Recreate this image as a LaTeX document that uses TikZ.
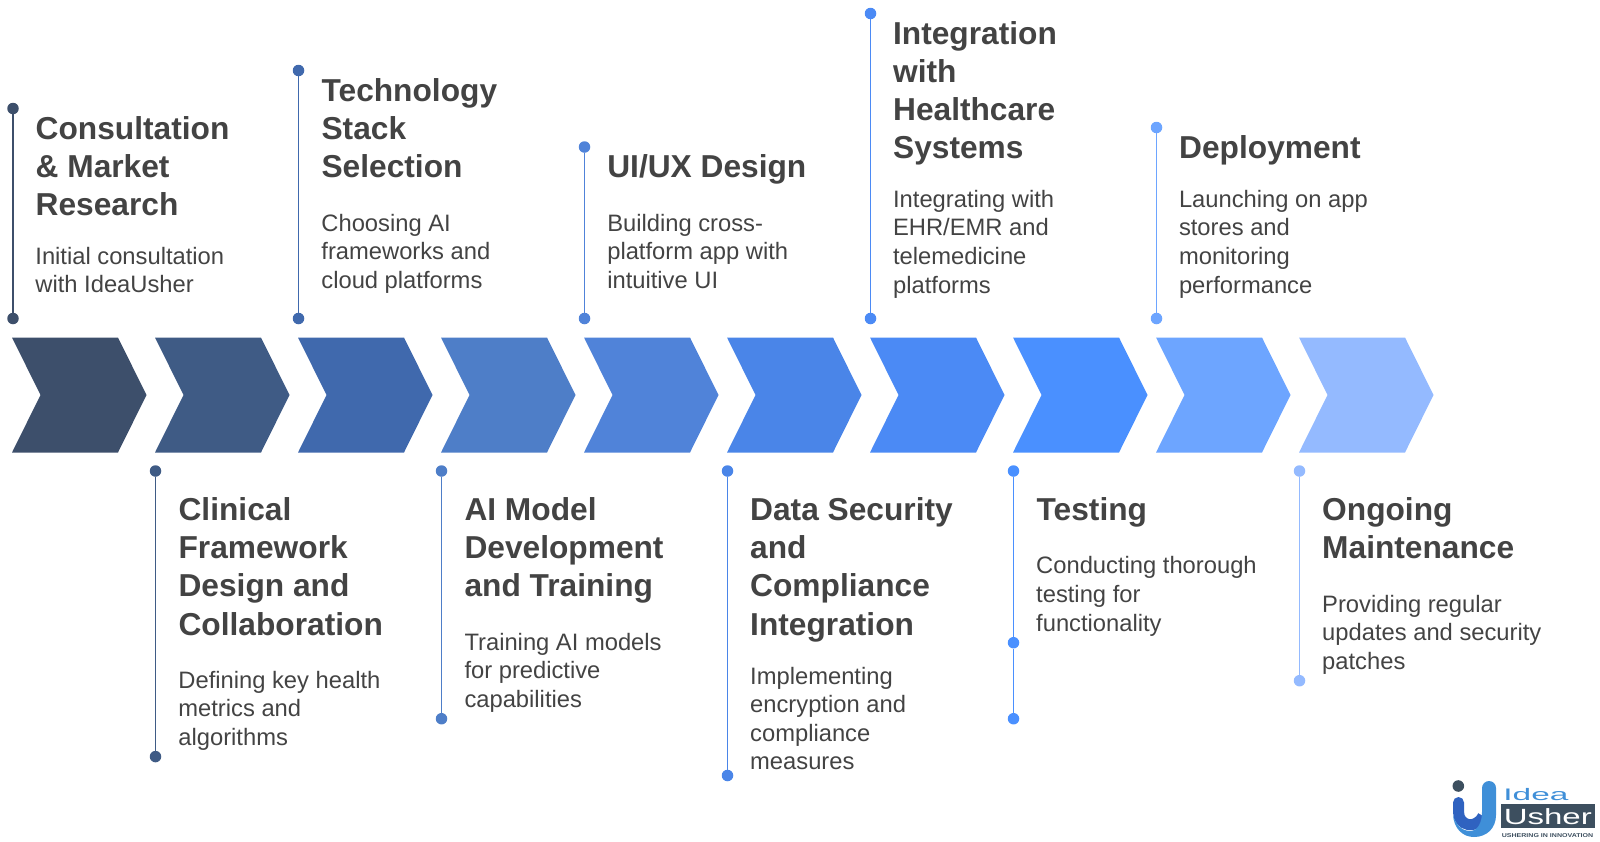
\documentclass[tikz,border=0pt]{standalone}
\usepackage{fontspec}
\setmainfont{Liberation Sans}
\definecolor{txt}{HTML}{434343}
\definecolor{c1}{HTML}{3D4F6B}
\definecolor{c2}{HTML}{3F5B85}
\definecolor{c3}{HTML}{4069AD}
\definecolor{c4}{HTML}{4E7EC8}
\definecolor{c5}{HTML}{5083D9}
\definecolor{c6}{HTML}{4A85E8}
\definecolor{c7}{HTML}{4B8AF5}
\definecolor{c8}{HTML}{4A90FF}
\definecolor{c9}{HTML}{6DA5FF}
\definecolor{c10}{HTML}{94BAFF}
\definecolor{logoblue}{HTML}{3F8FD8}
\definecolor{logodark}{HTML}{2F62C0}
\definecolor{logoslate}{HTML}{3D4F5F}
\newcommand\Lin[1]{\hbox{\strut #1}}
\newcommand\TitleBlock[1]{\vtop{\fontsize{31.7}{38.2}\selectfont\bfseries\baselineskip=38.2pt\def\strut{}#1}}
\newcommand\DescBlock[1]{\vtop{\fontsize{23.75}{28.6}\selectfont\baselineskip=28.6pt\def\strut{}#1}}
\tikzset{
  titletext/.style={anchor=base west,inner sep=0pt,text=txt},
  desctext/.style={anchor=base west,inner sep=0pt,text=txt},
  pin/.style={circle,inner sep=0pt,minimum size=11.5pt,fill=#1,draw=none},
  stem/.style={line width=1.8pt,draw=#1},
}
\newcommand\Chev[2]{%
  \fill[#2] (#1,337.5) -- (#1+106,337.5) -- (#1+134.5,395) -- (#1+106,452.5) -- (#1,452.5) -- (#1+28.5,395) -- cycle;}
\begin{document}
\begin{tikzpicture}[x=1pt,y=-1pt]
\useasboundingbox (0,0) rectangle (1600,841);
% chevrons
\Chev{12}{c1}\Chev{155}{c2}\Chev{298}{c3}\Chev{441}{c4}\Chev{584}{c5}
\Chev{727}{c6}\Chev{870}{c7}\Chev{1013}{c8}\Chev{1156}{c9}\Chev{1299}{c10}
% pins
\node[pin=c1] (a1) at (13,108.5) {};   \node[pin=c1] (b1) at (13,318.5) {};
\node[pin=c2] (a2) at (155.5,471) {};  \node[pin=c2] (b2) at (155.5,756.6) {};
\node[pin=c3] (a3) at (298.5,70.5) {}; \node[pin=c3] (b3) at (298.5,318.5) {};
\node[pin=c4] (a4) at (441.5,471) {};  \node[pin=c4] (b4) at (441.5,718.7) {};
\node[pin=c5] (a5) at (584.5,147) {};  \node[pin=c5] (b5) at (584.5,318.5) {};
\node[pin=c6] (a6) at (727.5,471) {};  \node[pin=c6] (b6) at (727.5,775.5) {};
\node[pin=c7] (a7) at (870.5,13.5) {}; \node[pin=c7] (b7) at (870.5,318.5) {};
\node[pin=c8] (a8) at (1013.5,471) {}; \node[pin=c8] (m8) at (1013.5,642.7) {}; \node[pin=c8] (b8) at (1013.5,718.7) {};
\node[pin=c9] (a9) at (1156.5,127.5) {}; \node[pin=c9] (b9) at (1156.5,318.5) {};
\node[pin=c10] (a10) at (1299.5,471) {}; \node[pin=c10] (b10) at (1299.5,680.7) {};
\draw[stem=c1] (a1) -- (b1);
\draw[stem=c2] (a2) -- (b2);
\draw[stem=c3] (a3) -- (b3);
\draw[stem=c4] (a4) -- (b4);
\draw[stem=c5] (a5) -- (b5);
\draw[stem=c6] (a6) -- (b6);
\draw[stem=c7] (a7) -- (b7);
\draw[stem=c8] (a8) -- (m8);
\draw[stem=c8] (m8) -- (b8);
\draw[stem=c9] (a9) -- (b9);
\draw[stem=c10] (a10) -- (b10);
% titles
\node[titletext] (t1) at (35.5,139) {\TitleBlock{\Lin{Consultation}\Lin{\& Market}\Lin{Research}}};
\node[titletext] (t2) at (178.4,520.4) {\TitleBlock{\Lin{Clinical}\Lin{Framework}\Lin{Design and}\Lin{Collaboration}}};
\node[titletext] (t3) at (321.4,101) {\TitleBlock{\Lin{Technology}\Lin{Stack}\Lin{Selection}}};
\node[titletext] (t4) at (464.3,520.4) {\TitleBlock{\Lin{AI Model}\Lin{Development}\Lin{and Training}}};
\node[titletext] (t5) at (607.1,177.5) {\TitleBlock{\Lin{UI/UX Design}}};
\node[titletext] (t6) at (750,520.4) {\TitleBlock{\Lin{Data Security}\Lin{and}\Lin{Compliance}\Lin{Integration}}};
\node[titletext] (t7) at (892.9,44) {\TitleBlock{\Lin{Integration}\Lin{with}\Lin{Healthcare}\Lin{Systems}}};
\node[titletext] (t8) at (1036.5,520.4) {\TitleBlock{\Lin{Testing}}};
\node[titletext] (t9) at (1179,158) {\TitleBlock{\Lin{Deployment}}};
\node[titletext] (t10) at (1322,520.4) {\TitleBlock{\Lin{Ongoing}\Lin{Maintenance}}};
% descriptions
\node[desctext] (d1) at (35.2,264.3) {\DescBlock{\Lin{Initial consultation}\Lin{with IdeaUsher}}};
\node[desctext] (d2) at (178.2,688.3) {\DescBlock{\Lin{Defining key health}\Lin{metrics and}\Lin{algorithms}}};
\node[desctext] (d3) at (321.2,231.3) {\DescBlock{\Lin{Choosing AI}\Lin{frameworks and}\Lin{cloud platforms}}};
\node[desctext] (d4) at (464.3,650.3) {\DescBlock{\Lin{Training AI models}\Lin{for predictive}\Lin{capabilities}}};
\node[desctext] (d5) at (607.1,231.3) {\DescBlock{\Lin{Building cross-}\Lin{platform app with}\Lin{intuitive UI}}};
\node[desctext] (d6) at (750,684) {\DescBlock{\Lin{Implementing}\Lin{encryption and}\Lin{compliance}\Lin{measures}}};
\node[desctext] (d7) at (892.9,207.3) {\DescBlock{\Lin{Integrating with}\Lin{EHR/EMR and}\Lin{telemedicine}\Lin{platforms}}};
\node[desctext] (d8) at (1036,573.8) {\DescBlock{\Lin{Conducting thorough}\Lin{testing for}\Lin{functionality}}};
\node[desctext] (d9) at (1178.8,207.3) {\DescBlock{\Lin{Launching on app}\Lin{stores and}\Lin{monitoring}\Lin{performance}}};
\node[desctext] (d10) at (1322,612.3) {\DescBlock{\Lin{Providing regular}\Lin{updates and security}\Lin{patches}}};
% logo
\fill[logoslate] (1458.3,786) circle (5.8);
\draw[logodark,line width=11pt,line cap=butt] (1458.5,802.5) -- (1458.5,812) .. controls (1458.5,826) and (1476,830) .. (1483,816);
\fill[logodark] (1458.5,802.5) circle (5.5);
\fill[logoblue] (1453,815) .. controls (1454,829) and (1463,837) .. (1474,837) .. controls (1487,837) and (1496,828) .. (1496,815) -- (1496,788) arc[start angle=0,end angle=-180,radius=7] -- (1482,812) .. controls (1482,822) and (1478,831) .. (1470,831) .. controls (1462,831) and (1456,825) .. (1453,815) -- cycle;
\fill[logoslate] (1501.3,804) rectangle (1594.7,828);
\node[inner sep=0pt,anchor=base west,text=logoblue,font=\fontsize{16.7}{17}\selectfont,xscale=2] (logoa) at (1503,800) {Idea};
\node[inner sep=0pt,anchor=base west,text=white,font=\fontsize{22}{22}\selectfont,xscale=1.5] (logob) at (1503.5,824) {Usher};
\node[inner sep=0pt,anchor=base west,text=logoslate,font=\fontsize{5.6}{6}\selectfont\bfseries,xscale=1.26] (logoc) at (1501.5,837) {USHERING IN INNOVATION};
\end{tikzpicture}
\end{document}
